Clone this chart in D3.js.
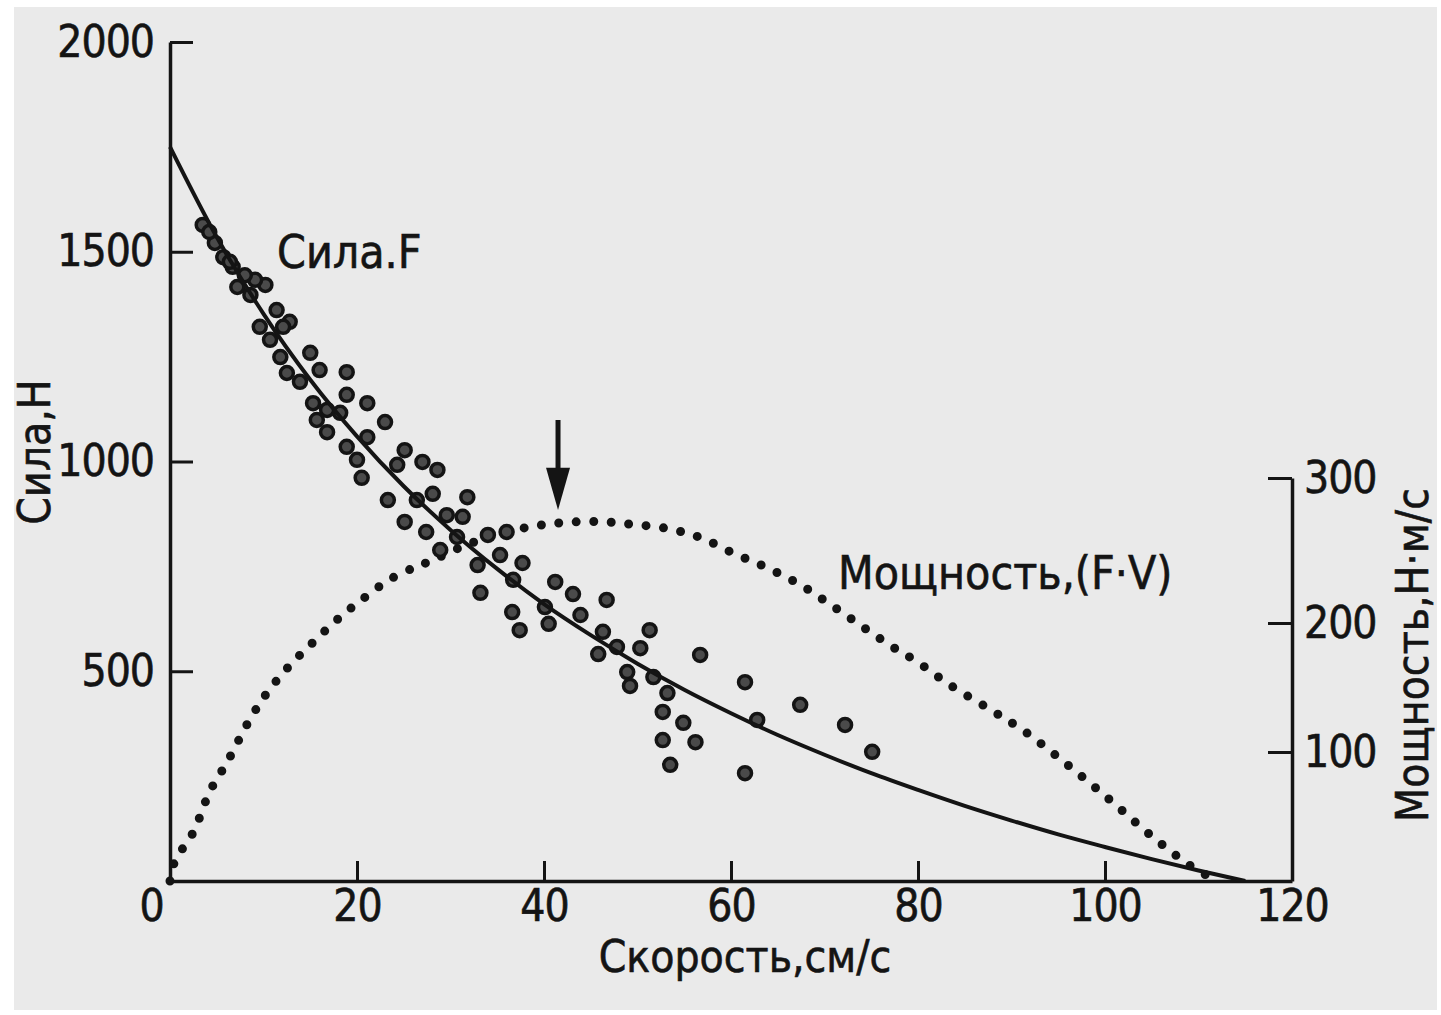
<!DOCTYPE html>
<html>
<head>
<meta charset="utf-8">
<script src="https://cdn.jsdelivr.net/npm/d3@7"></script>
<style>
  body { margin: 0; background: #fff; }
  svg text { font-family: "DejaVu Sans Condensed", "Liberation Sans Narrow", "DejaVu Sans", sans-serif; fill: #141414; stroke: #141414; stroke-width: 0.6px; }
</style>
</head>
<body>
<svg width="1441" height="1015"></svg>
<script>
// шкалы
var xTicks = [0, 20, 40, 60, 80, 100, 120],
    forceTicks = [500, 1000, 1500, 2000],
    powerTicks = [100, 200, 300];

// сглаженная кривая силы (см/с, Н)
var fitV = [0, 5, 10, 15, 20, 25, 30, 35, 40, 45, 50, 55, 60, 65, 70, 75, 80, 85, 90, 95, 100, 105, 110, 115];
var fitF = [1750, 1535, 1352, 1195, 1060, 941, 837, 744, 660, 586, 518, 456, 400, 348, 301, 257, 217, 179, 144, 111, 81, 52, 25, 0];

// мощность (см/с, Н·м/с)
var powerV = [0, 0.5, 2.5, 4.3, 6.1, 8.6, 10.5, 12.8, 15.3, 18.0, 20.5, 23.5, 26.4, 28.0, 31.0, 34.5, 38.2, 41.7, 45.7, 49.5, 53.3, 56.7, 60.3, 63.9, 67.5, 70.8, 74.3, 77.6, 79.7, 83.4, 87.7, 91.4, 96.0, 100.5, 104.8, 109.1, 112];
var powerP = [0, 15, 38, 70, 92, 126, 147, 167, 185, 203, 216, 230, 239, 243, 252, 260, 266, 269, 270, 268, 265, 259, 248, 238, 226, 212, 196, 180, 171, 152, 133, 116, 90, 63, 36, 12, 0];

// измерения
var pointV = [3.5, 4.8, 5.7, 6.7, 7.2, 8.6, 10.2, 9.1, 11.4, 9.6, 12.8, 10.7, 12.1, 11.8, 12.5, 13.9, 15.0, 16.0, 18.9, 18.9,
              21.1, 15.3, 16.8, 15.7, 16.8, 18.2, 23.0, 18.9, 21.1, 20.0, 20.5, 25.1, 27.0, 28.6, 24.3, 23.3, 26.4, 28.1, 31.8, 25.1,
              27.4, 29.6, 31.3, 28.9, 30.7, 34.0, 36.0, 32.9, 35.3, 37.7, 36.7, 33.2, 36.6, 37.4, 41.2, 43.1, 40.1, 43.9, 40.5, 46.7,
              46.3, 45.8, 47.8, 50.3, 51.3, 48.9, 49.2, 51.7, 53.2, 56.7, 52.7, 54.9, 56.2, 52.7, 53.5, 61.5, 62.8, 67.4, 72.2, 75.1,
              61.5, 4.2, 8.0, 6.4];
var pointF = [1564, 1521, 1487, 1464, 1416, 1397, 1421, 1433, 1361, 1321, 1333, 1290, 1321, 1249, 1211, 1190, 1259, 1218, 1213, 1159,
              1139, 1139, 1123, 1099, 1070, 1116, 1094, 1035, 1058, 1004, 961, 1027, 999, 980, 992, 908, 908, 923, 915, 856,
              832, 872, 868, 789, 820, 825, 832, 753, 777, 758, 718, 687, 641, 598, 713, 684, 653, 634, 613, 670,
              594, 541, 558, 555, 598, 498, 465, 486, 448, 539, 403, 377, 331, 336, 277, 474, 384, 420, 372, 308,
              257, 1547, 1444, 1476];

var arrowV = 41.5, arrowTop = 340, arrowNeck = 307, arrowTip = 278;

var svg = d3.select("svg");

svg.append("rect").attr("width", 1441).attr("height", 1015).attr("fill", "#fff");
svg.append("rect").attr("x", 14).attr("y", 7).attr("width", 1423).attr("height", 1003).attr("fill", "#eaeaea");

var x = d3.scaleLinear().domain([0, 120]).range([170, 1292]),
    yF = d3.scaleLinear().domain([0, 2000]).range([881, 42]),
    yP = d3.scaleLinear().domain([0, 100, 200, 300]).range([881, 752, 623, 478]);

var fmt = d3.format("d");

function styleAxis(g) {
    g.attr("font-family", null).attr("font-size", null);
    g.select(".domain").attr("stroke", "#141414").attr("stroke-width", 3.5);
    g.selectAll(".tick line").attr("stroke", "#141414").attr("stroke-width", 3);
    g.selectAll(".tick text").attr("font-size", 44).attr("fill", "#141414").attr("letter-spacing", -1);
}

var gx = svg.append("g")
    .attr("transform", "translate(0,881)")
    .call(d3.axisBottom(x).tickValues(xTicks).tickFormat(fmt).tickSizeInner(-20).tickSizeOuter(0).tickPadding(9))
    .call(styleAxis);
gx.selectAll(".tick text").filter(function(d) { return d === 0; }).attr("x", -19);

svg.append("g")
    .attr("transform", "translate(170,0)")
    .call(d3.axisLeft(yF).tickValues(forceTicks).tickFormat(fmt).tickSizeInner(-23).tickSizeOuter(0).tickPadding(16))
    .call(styleAxis);

svg.append("g")
    .attr("transform", "translate(1292,0)")
    .call(d3.axisRight(yP).tickValues(powerTicks).tickFormat(fmt).tickSizeInner(-24).tickSizeOuter(0).tickPadding(12))
    .call(styleAxis);

// мощность — пунктир из точек
var powerData = powerV.map(function(v, i) { return [v, powerP[i]]; });
svg.append("path")
    .datum(powerData)
    .attr("fill", "none")
    .attr("stroke", "#141414")
    .attr("stroke-width", 9)
    .attr("stroke-linecap", "round")
    .attr("stroke-dasharray", "0 17.5")
    .attr("d", d3.line().x(function(d) { return x(d[0]); }).y(function(d) { return yP(d[1]); }).curve(d3.curveCatmullRom));

// точки измерений
var pts = pointV.map(function(v, i) { return [v, pointF[i]]; });
svg.append("g")
    .selectAll("circle")
    .data(pts)
    .enter().append("circle")
    .attr("cx", function(d) { return x(d[0]); })
    .attr("cy", function(d) { return yF(d[1]); })
    .attr("r", 6.5)
    .attr("fill", "#4a4a4a")
    .attr("stroke", "#141414")
    .attr("stroke-width", 3.5);

// кривая силы
var fitData = fitV.map(function(v, i) { return [v, fitF[i]]; });
svg.append("path")
    .datum(fitData)
    .attr("fill", "none")
    .attr("stroke", "#141414")
    .attr("stroke-width", 4)
    .attr("d", d3.line().x(function(d) { return x(d[0]); }).y(function(d) { return yF(d[1]); }).curve(d3.curveMonotoneX));

// стрелка
var ax = x(arrowV);
svg.append("line")
    .attr("x1", ax).attr("x2", ax)
    .attr("y1", yP(arrowTop)).attr("y2", yP(arrowNeck) + 4)
    .attr("stroke", "#141414").attr("stroke-width", 5);
svg.append("path")
    .attr("d", "M" + (ax - 12) + "," + yP(arrowNeck) + "L" + (ax + 12) + "," + yP(arrowNeck) + "L" + ax + "," + yP(arrowTip) + "Z")
    .attr("fill", "#141414");

// подписи
svg.append("text")
    .attr("x", 745).attr("y", 972)
    .attr("text-anchor", "middle")
    .attr("font-size", 44)
    .text("Скорость,см/с");

svg.append("text")
    .attr("transform", "translate(50,452) rotate(-90)")
    .attr("text-anchor", "middle")
    .attr("font-size", 44)
    .text("Сила,Н");

svg.append("text")
    .attr("transform", "translate(1428,655) rotate(-90)")
    .attr("text-anchor", "middle")
    .attr("font-size", 44)
    .text("Мощность,Н·м/с");

svg.append("text")
    .attr("x", 277).attr("y", 268)
    .attr("font-size", 46)
    .text("Сила.F");

svg.append("text")
    .attr("x", 838).attr("y", 589)
    .attr("font-size", 46)
    .text("Мощность,(F·V)");
</script>
</body>
</html>
